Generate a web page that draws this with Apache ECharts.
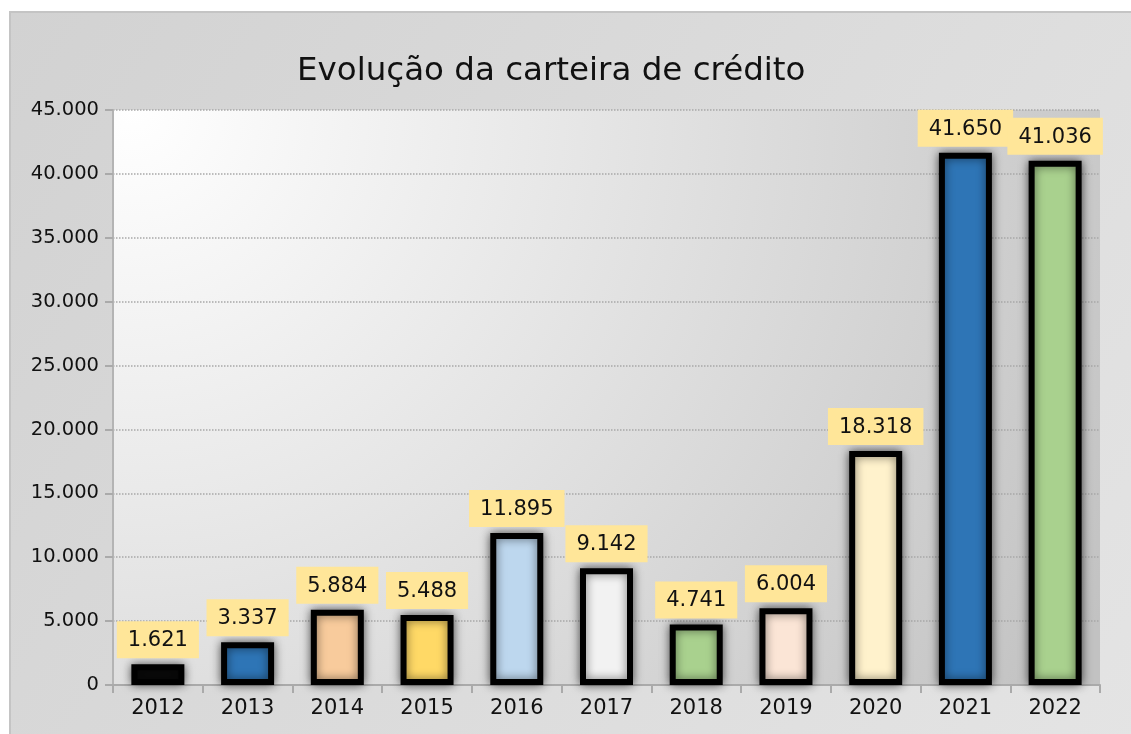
<!DOCTYPE html>
<html>
<head>
<meta charset="utf-8">
<script src="https://cdn.jsdelivr.net/npm/echarts@6/dist/echarts.min.js"></script>
<style>
  html, body { margin: 0; padding: 0; background: #fff; }
  #chart1 { width: 1131px; height: 734px; }
</style>
</head>
<body>
<div id="chart1"></div>
<script>
var years = ['2012', '2013', '2014', '2015', '2016', '2017', '2018', '2019', '2020', '2021', '2022'];
var carteira = [1621, 3337, 5884, 5488, 11895, 9142, 4741, 6004, 18318, 41650, 41036];
var barColors = ['#0a0a0a', '#2e75b6', '#f8cb9c', '#ffd966', '#bdd7ee', '#f2f2f2',
                 '#a9d18e', '#fbe5d6', '#fff2cc', '#2e75b6', '#a9d18e'];

var dom = document.getElementById('chart1');
var myChart = echarts.init(dom);

// formato pt-BR: 41.650
function fmt(v) {
    return String(v).replace(/\B(?=(\d{3})+(?!\d))/g, '.');
}

var option = {
    backgroundColor: '#ffffff',
    textStyle: { fontFamily: 'DejaVu Sans' },
    graphic: [{
        type: 'rect',
        z: -10,
        shape: { x: 10, y: 12, width: 1130, height: 730 },
        style: {
            fill: new echarts.graphic.LinearGradient(0, 0, 1, 1, [
                { offset: 0, color: '#d2d2d2' },
                { offset: 1, color: '#e4e4e4' }
            ]),
            stroke: '#c4c4c4',
            lineWidth: 2
        }
    }],
    title: {
        text: 'Evolução da carteira de crédito',
        left: 292,
        top: 50,
        textStyle: { fontSize: 32.5, fontWeight: 'normal', color: '#111', fontFamily: 'DejaVu Sans' }
    },
    grid: {
        left: 113, right: 31, top: 110, bottom: 49,
        show: true,
        borderWidth: 0,
        backgroundColor: {
            type: 'radial', x: 0.02, y: 0.0, r: 1.9,
            colorStops: [
                { offset: 0, color: '#ffffff' },
                { offset: 1, color: '#c2c2c2' }
            ]
        }
    },
    xAxis: {
        type: 'category',
        data: years,
        axisLine: { lineStyle: { color: '#aaaaaa', width: 2 } },
        axisTick: { show: true, length: 8, lineStyle: { color: '#aaaaaa', width: 2 } },
        axisLabel: { fontSize: 21, color: '#111', margin: 13 }
    },
    yAxis: {
        type: 'value',
        min: 0, max: 45000, interval: 5000,
        axisLine: { show: true, lineStyle: { color: '#b4b4b4', width: 2 } },
        axisTick: { show: true, length: 8, lineStyle: { color: '#aaaaaa', width: 2 } },
        axisLabel: { fontSize: 19.5, color: '#111', margin: 14, formatter: fmt },
        splitLine: { lineStyle: { type: 'dotted', color: '#a8a8a8', width: 1.5 } }
    },
    series: [{
        type: 'bar',
        barWidth: 53,
        data: carteira.map(function (v, i) {
            return { value: v, itemStyle: { color: barColors[i] } };
        }),
        itemStyle: {
            borderColor: '#000',
            borderWidth: 6,
            shadowBlur: 10,
            shadowColor: 'rgba(0,0,0,0.55)'
        },
        label: {
            show: true,
            position: 'top',
            distance: 6,
            formatter: function (p) { return fmt(p.value); },
            backgroundColor: '#ffe699',
            padding: [9, 11, 7, 11],
            fontSize: 21,
            color: '#111'
        }
    }]
};

myChart.setOption(option);
</script>
</body>
</html>
